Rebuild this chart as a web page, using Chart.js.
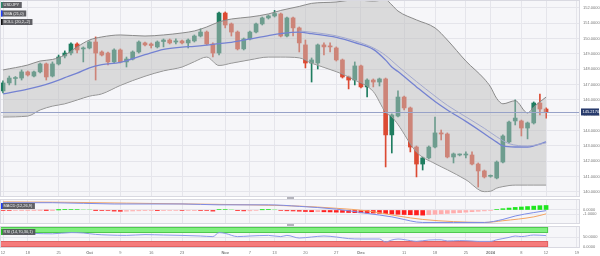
<!DOCTYPE html>
<html>
<head>
<meta charset="utf-8">
<script src="https://cdn.jsdelivr.net/npm/chart.js@4.4.1/dist/chart.umd.min.js"></script>
<style>
  html, body { margin: 0; padding: 0; background: #fff; }
  body { width: 600px; height: 256px; position: relative; overflow: hidden; }
  canvas { position: absolute; left: 0; }
  .grip { position: absolute; left: 287px; width: 7px; height: 2px; background: #b4b4bc; }
</style>
</head>
<body>
<canvas id="chartMain" width="600" height="197" style="top:0"></canvas>
<canvas id="chartMacd" width="600" height="25" style="top:199px"></canvas>
<canvas id="chartRsi" width="600" height="30" style="top:226px"></canvas>
<div class="grip" style="top:197px"></div>
<div class="grip" style="top:224px"></div>
<script>
// ===============================
// Data (USDJPY daily, 12 Sep 2023 -> 19 Jan 2024)
// ===============================
const days = Array.from({ length: 94 }, (_, i) => i); // trading-day slots
const tickAt = [0, 4, 9, 14, 19, 24, 29, 36, 40, 44, 49, 54, 58, 65, 70, 75, 79, 84, 88, 93];
const tickText = ["12", "18", "25", "Oct", "9", "16", "23", "Nov", "7", "13", "20", "27", "Dec", "11", "18", "25", "2024", "8", "12", "19"];
const boldTicks = ["Oct", "Nov", "Dec", "2024"];

const openP = [
  146.59, 147.11, 147.40, 147.43, 147.83, 147.56, 147.83, 148.35, 147.56, 148.35,
  148.87, 149.06, 149.65, 149.33, 149.39, 149.78, 149.13, 149.06, 148.48, 149.26,
  148.48, 148.67, 149.13, 149.72, 149.65, 149.46, 149.81, 149.91, 149.78, 149.85,
  149.72, 149.85, 150.17, 150.43, 149.65, 149.06, 151.67, 150.96, 150.43, 149.33,
  149.98, 150.43, 150.96, 151.35, 151.48, 151.61, 150.17, 151.35, 150.70, 149.59,
  148.41, 148.41, 149.59, 149.52, 149.39, 148.61, 147.50, 147.30, 148.22, 146.85,
  147.30, 147.17, 147.37, 143.72, 144.95, 146.19, 145.48, 142.93, 141.82, 142.22,
  142.93, 143.85, 143.78, 142.28, 142.41, 142.41, 142.41, 141.82, 141.37, 141.02,
  140.91, 141.95, 143.26, 144.63, 144.63, 144.17, 144.50, 145.80, 145.41
];
const highP = [
  147.24, 147.56, 147.53, 147.96, 147.89, 147.89, 148.41, 148.41, 148.48, 148.93,
  149.20, 149.72, 149.72, 149.46, 149.85, 150.11, 149.20, 149.13, 149.33, 149.33,
  148.80, 149.20, 149.85, 149.78, 149.72, 149.85, 149.98, 149.98, 149.98, 149.91,
  149.98, 150.24, 150.63, 150.50, 149.72, 151.74, 151.74, 151.02, 150.50, 150.04,
  150.50, 151.02, 151.41, 151.54, 151.84, 151.67, 151.41, 151.41, 150.76, 149.91,
  148.74, 149.65, 149.72, 149.72, 149.46, 148.67, 147.56, 148.48, 148.28, 147.37,
  147.37, 147.43, 147.43, 145.09, 146.59, 146.26, 145.54, 143.00, 142.28, 143.00,
  144.89, 144.04, 143.85, 142.54, 142.48, 142.61, 142.61, 141.89, 141.43, 141.11,
  142.02, 143.72, 144.63, 146.00, 144.69, 144.56, 145.87, 146.39, 145.48
];
const lowP = [
  146.46, 146.98, 146.98, 147.30, 147.56, 147.50, 147.76, 147.30, 147.50, 148.28,
  148.74, 148.93, 149.06, 148.48, 149.33, 147.30, 148.87, 148.28, 148.41, 148.41,
  148.15, 148.61, 149.06, 149.52, 149.39, 149.39, 149.46, 149.65, 149.65, 149.65,
  149.39, 149.78, 150.11, 149.59, 148.80, 148.93, 150.70, 150.17, 149.26, 149.26,
  149.91, 150.37, 150.89, 151.28, 151.41, 150.11, 150.11, 150.17, 149.13, 148.09,
  147.17, 148.02, 148.93, 149.13, 148.54, 147.43, 146.72, 146.98, 146.78, 146.19,
  146.85, 146.91, 141.63, 142.54, 144.89, 145.35, 142.61, 140.98, 141.43, 142.15,
  142.87, 143.39, 142.22, 141.89, 142.35, 142.22, 141.76, 140.32, 140.91, 140.96,
  140.85, 141.89, 143.20, 144.37, 143.65, 143.46, 144.43, 145.02, 144.82
];
const closeP = [
  147.11, 147.43, 147.43, 147.83, 147.63, 147.83, 148.35, 147.50, 148.35, 148.80,
  149.06, 149.65, 149.26, 149.39, 149.78, 149.06, 148.93, 148.48, 149.26, 148.48,
  148.67, 149.13, 149.78, 149.59, 149.55, 149.78, 149.91, 149.72, 149.85, 149.72,
  149.91, 150.17, 150.43, 149.65, 149.06, 151.67, 150.89, 150.43, 149.33, 149.98,
  150.43, 150.96, 151.35, 151.48, 151.64, 150.17, 151.35, 150.70, 149.72, 148.41,
  148.61, 149.59, 149.46, 149.46, 148.61, 147.50, 147.30, 148.22, 146.85, 147.30,
  147.17, 147.37, 143.72, 145.02, 146.19, 145.48, 142.93, 141.82, 142.22, 142.93,
  143.85, 143.78, 142.28, 142.48, 142.44, 142.46, 141.82, 141.37, 140.98, 141.04,
  141.95, 143.65, 144.56, 144.82, 144.17, 144.50, 145.80, 145.41, 145.22
];
const lastPrice = 145.217;

// Bollinger / SMA read at these day slots
const bandIdx = [0, 4, 6, 8, 10, 12, 14, 16, 19, 23, 26, 29, 31, 33, 35, 37, 40, 43, 45, 48,
  50, 54, 57, 60, 62, 63, 64, 67, 70, 72, 75, 78, 79, 80, 81, 83, 85, 86, 88];
const bbUpper = [147.96, 148.28, 148.54, 148.64, 148.93, 149.46, 149.91, 150.11, 150.24, 150.17,
  150.24, 150.37, 150.50, 150.76, 151.09, 151.28, 151.41, 151.61, 151.84, 152.10,
  152.30, 152.39, 152.55, 152.45, 152.55, 152.20, 151.80, 151.22, 150.70, 149.91,
  148.54, 147.37, 146.85, 146.10, 145.75, 145.95, 145.15, 145.54, 146.19];
const bbLower = [144.89, 144.95, 145.35, 145.60, 145.75, 146.00, 146.25, 146.40, 146.95, 147.55,
  147.90, 148.15, 148.50, 148.80, 148.25, 148.40, 148.62, 148.80, 148.80, 148.75,
  148.40, 147.85, 147.30, 146.55, 145.20, 144.90, 144.40, 142.60, 141.85, 141.45,
  140.80, 140.02, 140.05, 140.25, 140.35, 140.45, 140.45, 140.45, 140.45];
const smaLine = [146.39, 146.70, 146.90, 147.15, 147.45, 147.75, 148.10, 148.30, 148.45, 148.95,
  149.30, 149.45, 149.50, 149.58, 149.68, 149.76, 149.98, 150.20, 150.33, 150.43,
  150.32, 150.08, 149.74, 149.30, 148.60, 148.15, 147.85, 146.85, 145.90, 145.35,
  144.60, 143.80, 143.52, 143.25, 143.00, 142.93, 142.93, 143.00, 143.26];
const midIdx = [48, 50, 54, 57, 60, 62, 64, 67, 70, 72, 75, 78, 80, 82, 85, 88];
const bbMid = [150.50, 150.42, 150.18, 149.85, 149.40, 148.90, 148.20, 147.20, 146.25, 145.65,
  144.90, 144.15, 143.60, 143.15, 143.00, 143.20];

// MACD (12,26,9)
const macdHist = [
  -0.10, -0.12, -0.10, -0.05, -0.04, -0.03, -0.02, -0.02, -0.01, 0.01,
  0.08, 0.10, 0.12, 0.10, 0.08, -0.05, -0.10, -0.12, -0.25, -0.30,
  -0.28, -0.22, -0.18, -0.15, -0.14, -0.16, -0.15, -0.12, -0.10, -0.12,
  -0.10, -0.08, -0.10, -0.12, -0.25, 0.10, 0.12, 0.08, -0.15, -0.20,
  -0.18, -0.12, 0.05, 0.08, 0.06, -0.12, -0.18, -0.22, -0.28, -0.35,
  -0.40, -0.38, -0.42, -0.45, -0.50, -0.55, -0.58, -0.62, -0.65, -0.70,
  -0.72, -0.78, -0.85, -0.95, -1.00, -1.05, -1.10, -1.15, -1.20, -1.10,
  -1.00, -0.90, -0.80, -0.70, -0.60, -0.50, -0.40, -0.30, -0.20, -0.10,
  0.10, 0.30, 0.45, 0.60, 0.70, 0.80, 0.90, 1.00, 1.05
];
const macdIdx = [0, 8, 18, 29, 35, 43, 48, 54, 59, 63, 64, 68, 73, 78, 81, 83, 86, 88];
const macdVal = [1.7, 1.7, 1.4, 1.4, 1.2, 1.2, 0.85, 0.2, -0.8, -1.6, -1.9, -2.9, -2.9, -2.9, -2.2, -1.4, -0.6, -0.15];
const signalIdx = [0, 10, 20, 30, 40, 48, 54, 59, 64, 68, 73, 78, 81, 86, 88];
const signalVal = [1.9, 1.8, 1.6, 1.4, 1.2, 0.9, 0.4, -0.2, -1.4, -2.2, -2.7, -2.9, -2.5, -1.6, -0.9];

// RSI (14)
const rsiIdx = [0, 3, 5, 8, 11, 13, 15, 17, 20, 23, 26, 29, 32, 34, 35, 36, 38, 40, 43, 45,
  46, 48, 50, 52, 54, 56, 58, 61, 62, 63, 64, 66, 67, 69, 71, 72, 74, 76, 77, 79,
  80, 82, 83, 84, 86, 88];
const rsiVal = [77, 72, 68, 66, 72, 70, 63, 60, 58, 62, 60, 58, 55, 52, 72, 68, 52, 55, 58, 52,
  58, 45, 50, 55, 50, 42, 40, 40, 25, 35, 40, 32, 28, 35, 36, 30, 32, 30, 28, 28,
  36, 48, 55, 52, 60, 57];
const rsiHighZone = [70, 100];
const rsiLowZone = [0, 30];

// Axis ticks
const priceTicks = [140, 141, 142, 143, 144, 145, 146, 147, 148, 149, 150, 151, 152];
const macdTicks = [0, -1];
const rsiTicks = [0, 50];

// ===============================
// Helpers
// ===============================
const FONT = '"Liberation Sans", Arial, sans-serif';
Chart.defaults.font.family = FONT;

const UP = "#1f7d60";
const DOWN = "#dc4a33";
const candleColor = openP.map((o, i) => (closeP[i] >= o ? UP : DOWN));
const histColor = macdHist.map((v, i) => {
  const prev = i ? macdHist[i - 1] : 0;
  if (v >= 0) return v >= prev ? "#1ee61e" : "#a8eea8";
  return v <= prev ? "#ff1f1f" : "#ffadad";
});

const pts = (idx, vals) => idx.map((x, k) => ({ x, y: vals[k] }));

const xAxis = (showLabels) => ({
  type: "category",
  offset: true,
  grid: {
    offset: false,
    drawTicks: false,
    color: (c) => (c.tick && tickAt.includes(c.tick.value) ? "#e5e5eb" : "transparent")
  },
  border: { display: false },
  ticks: {
    display: showLabels,
    autoSkip: false,
    maxRotation: 0,
    padding: 2,
    color: "#777",
    font: (c) => {
      const k = c.tick ? tickAt.indexOf(c.tick.value) : -1;
      return { size: 4, weight: k >= 0 && boldTicks.includes(tickText[k]) ? "bold" : "normal" };
    },
    callback: (v) => {
      const k = tickAt.indexOf(v);
      return k >= 0 ? tickText[k] : "";
    }
  },
  afterFit: (s) => {
    s.height = showLabels ? 8 : 0;
    s.paddingLeft = 0;
    s.paddingRight = 0;
  }
});

const yAxis = (min, max, ticks) => ({
  position: "right",
  min,
  max,
  afterBuildTicks: (s) => { s.ticks = ticks.map((v) => ({ value: v })); },
  afterFit: (s) => { s.width = 20; s.paddingTop = 0; s.paddingBottom = 0; },
  grid: { color: "#e5e5eb", drawTicks: false },
  border: { display: false },
  ticks: { padding: 3, color: "#777", font: { size: 4 }, callback: (v) => Number(v).toFixed(4) }
});

const baseOptions = (scales, tags) => ({
  responsive: false,
  animation: false,
  events: [],
  layout: { padding: 0 },
  scales,
  plugins: { legend: { display: false }, tooltip: { enabled: false }, tags }
});

// panel background + frame
const panelFrame = {
  id: "panelFrame",
  beforeDraw(chart) {
    const { ctx, chartArea: a } = chart;
    ctx.save();
    ctx.fillStyle = "#f6f6f9";
    ctx.fillRect(a.left, a.top, a.width, a.height);
    ctx.restore();
  },
  afterDraw(chart) {
    const { ctx, chartArea: a } = chart;
    ctx.save();
    ctx.strokeStyle = "#d9d9e1";
    ctx.lineWidth = 1;
    ctx.strokeRect(a.left + 0.5, a.top + 0.5, a.width - 1, a.height - 1);
    ctx.restore();
  }
};

// small indicator tags in the top-left corner
const tagPlugin = {
  id: "tags",
  afterDraw(chart, args, opts) {
    if (!opts || !opts.items) return;
    const ctx = chart.ctx;
    ctx.save();
    ctx.font = "4px " + FONT;
    ctx.textBaseline = "middle";
    opts.items.forEach((t, k) => {
      const y = opts.top + k * opts.step;
      const w = ctx.measureText(t.text).width + 5;
      ctx.fillStyle = "rgba(82,82,88,0.92)";
      ctx.fillRect(1, y, w, 6);
      ctx.fillStyle = t.color;
      ctx.fillRect(1, y, 1.5, 6);
      ctx.fillStyle = "#f0f0f0";
      ctx.fillText(t.text, 3.5, y + 3.2);
    });
    ctx.restore();
  }
};

// last price line + label
const lastPriceLine = {
  id: "lastPriceLine",
  afterDatasetsDraw(chart) {
    const { ctx, chartArea: a, scales: { y } } = chart;
    const py = Math.round(y.getPixelForValue(lastPrice)) + 0.5;
    ctx.save();
    ctx.strokeStyle = "#97a2c8";
    ctx.lineWidth = 1;
    ctx.beginPath();
    ctx.moveTo(a.left, py);
    ctx.lineTo(a.right, py);
    ctx.stroke();
    ctx.restore();
  },
  afterDraw(chart) {
    const { ctx, chartArea: a, scales: { y } } = chart;
    const py = y.getPixelForValue(lastPrice);
    ctx.save();
    ctx.fillStyle = "#273a6c";
    ctx.fillRect(a.right + 1, py - 3.5, 18, 7);
    ctx.fillStyle = "#fff";
    ctx.font = "4px " + FONT;
    ctx.textBaseline = "middle";
    ctx.fillText(lastPrice.toFixed(4), a.right + 2.5, py + 0.3);
    ctx.restore();
  }
};

// RSI overbought / oversold bands
const rsiZonesPlugin = {
  id: "rsiZones",
  beforeDatasetsDraw(chart) {
    const { ctx, chartArea: a, scales: { x, y } } = chart;
    const right = x.getPixelForValue(closeP.length - 1) + 2;
    const zones = [[rsiHighZone, "#80f080", "#4fc94f"], [rsiLowZone, "#f57b7b", "#e06262"]];
    ctx.save();
    zones.forEach(([z, fill, edge]) => {
      const top = y.getPixelForValue(z[1]);
      const bot = y.getPixelForValue(z[0]);
      ctx.fillStyle = fill;
      ctx.fillRect(a.left, top, right - a.left, bot - top);
      ctx.strokeStyle = edge;
      ctx.lineWidth = 1;
      ctx.strokeRect(a.left + 0.5, top + 0.5, right - a.left - 1, bot - top - 1);
    });
    ctx.restore();
  }
};

const line = (label, data, color, width, order, extra) => Object.assign({
  type: "line",
  label,
  data,
  borderColor: color,
  borderWidth: width,
  pointRadius: 0,
  cubicInterpolationMode: "monotone",
  fill: false,
  order
}, extra || {});

// ===============================
// Main price panel
// ===============================
new Chart(document.getElementById("chartMain"), {
  type: "bar",
  data: {
    labels: days,
    datasets: [
      line("BOLL upper", pts(bandIdx, bbUpper), "#8a8a8a", 1, 1,
        { fill: "+1", backgroundColor: "rgba(190,190,190,0.5)" }),
      line("BOLL lower", pts(bandIdx, bbLower), "#8a8a8a", 1, 1),
      line("BOLL mid", pts(midIdx, bbMid), "#a3a9cf", 1, 0),
      line("SMA (21,0)", pts(bandIdx, smaLine), "#7482d2", 1.3, 0),
      {
        label: "wick",
        data: lowP.map((l, i) => [l, highP[i]]),
        backgroundColor: candleColor,
        barThickness: 1,
        grouped: false,
        borderWidth: 0,
        order: 3
      },
      {
        label: "USDJPY",
        data: openP.map((o, i) => [o, closeP[i]]),
        backgroundColor: candleColor,
        barThickness: 4,
        minBarLength: 1,
        grouped: false,
        borderWidth: 0,
        order: 2
      }
    ]
  },
  options: baseOptions(
    { x: xAxis(false), y: yAxis(139.67, 152.52, priceTicks) },
    {
      top: 2, step: 8.5,
      items: [
        { text: "USDJPY", color: "#2a8a6a" },
        { text: "SMA (21,0)", color: "#2040ff" },
        { text: "BOLL (20,2,-2)", color: "#111" }
      ]
    }
  ),
  plugins: [panelFrame, lastPriceLine, tagPlugin]
});

// ===============================
// MACD panel
// ===============================
new Chart(document.getElementById("chartMacd"), {
  type: "bar",
  data: {
    labels: days,
    datasets: [
      { label: "hist", data: macdHist, backgroundColor: histColor, barThickness: 4, borderWidth: 0, order: 2 },
      line("MACD", pts(macdIdx, macdVal), "#7d8ce6", 1, 0),
      line("Signal", pts(signalIdx, signalVal), "#f4a463", 1, 1)
    ]
  },
  options: baseOptions(
    { x: xAxis(false), y: yAxis(-3.26, 2.56, macdTicks) },
    { top: 4, step: 8, items: [{ text: "MACD (12,26,9)", color: "#2040ff" }] }
  ),
  plugins: [panelFrame, tagPlugin]
});

// ===============================
// RSI panel
// ===============================
new Chart(document.getElementById("chartRsi"), {
  type: "line",
  data: {
    labels: days,
    datasets: [line("RSI", pts(rsiIdx, rsiVal), "#8c9ae8", 1, 0)]
  },
  options: baseOptions(
    { x: xAxis(true), y: yAxis(-5, 105, rsiTicks) },
    { top: 3, step: 8, items: [{ text: "RSI (14,70,30,1)", color: "#22cc22" }] }
  ),
  plugins: [panelFrame, rsiZonesPlugin, tagPlugin]
});
</script>
</body>
</html>
